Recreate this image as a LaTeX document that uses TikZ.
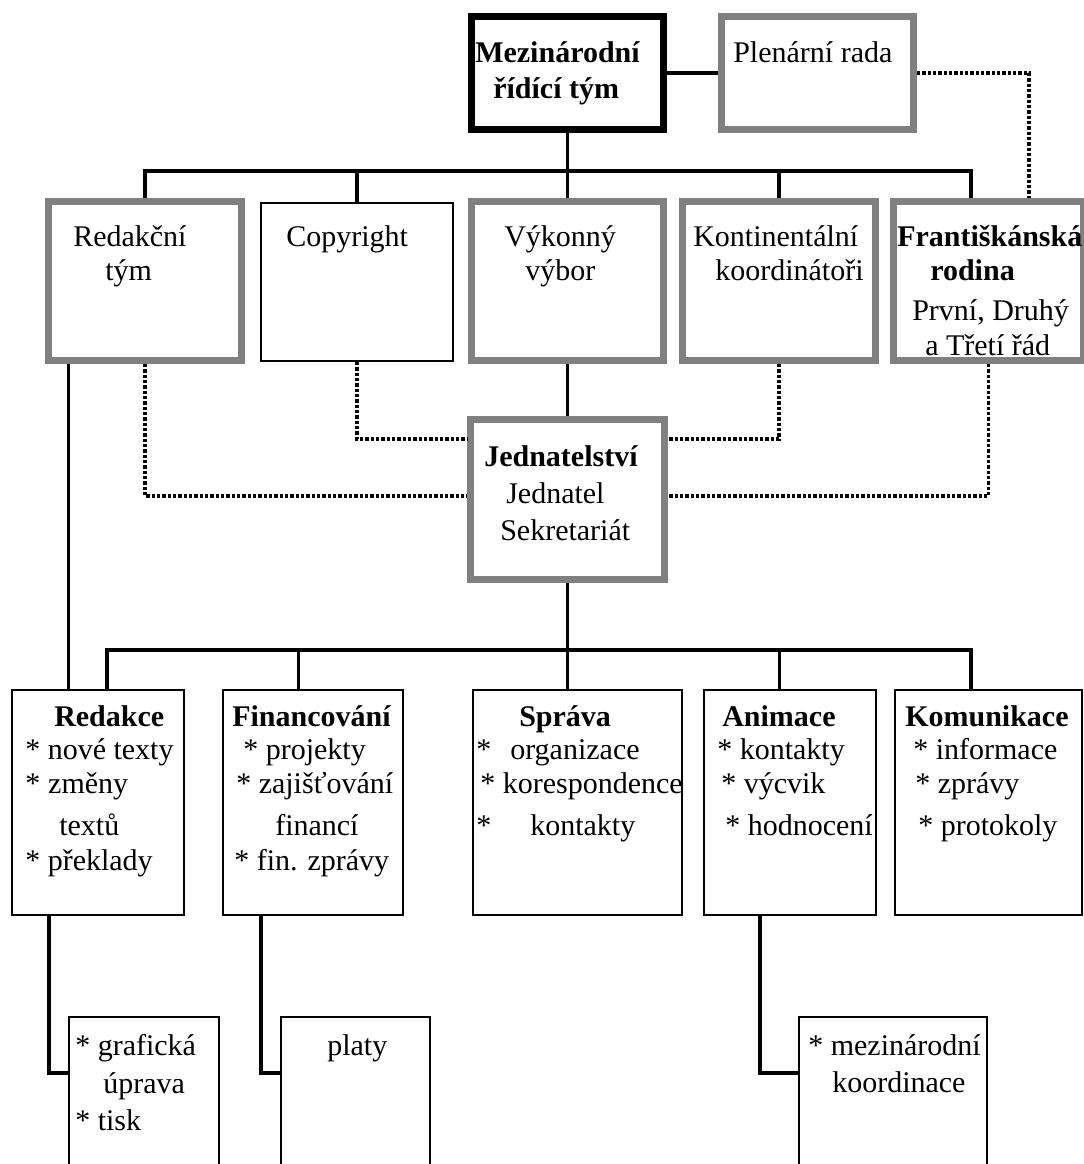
\documentclass[tikz,border=0pt]{standalone}
\usepackage{fontspec}
\setmainfont{Liberation Serif}
\usetikzlibrary{calc}
\definecolor{boxgray}{HTML}{808080}
\tikzset{
  px/.style={x=0.75pt,y=-0.75pt},
  graybox/.style={draw=boxgray,line width=5.25pt,fill=white,rectangle,inner sep=0pt},
  boldbox/.style={draw=black,line width=5.25pt,fill=white,rectangle,inner sep=0pt},
  thinbox/.style={draw=black,line width=1.5pt,fill=white,rectangle,inner sep=0pt},
  link/.style={draw=black,line width=2.9pt},
  dotlink/.style={draw=black,line width=2.4pt,dash pattern=on 2.4pt off 1.6pt},
  txt/.style={anchor=base west,inner sep=0pt,font=\fontsize{22.5pt}{27pt}\selectfont},
  btxt/.style={txt,font=\fontsize{22.5pt}{27pt}\selectfont\bfseries},
  wh/.style 2 args={minimum width=#1,minimum height=#2},
}
\begin{document}
\begin{tikzpicture}[px]
\useasboundingbox (0,0) rectangle (1084,1164);
\clip (0,0) rectangle (1084,1164);
\fill[white] (0,0) rectangle (1084,1164);

% ---------- boxes ----------
\node[boldbox,wh={144pt}{84.75pt}] (mez) at (567.5,73) {};
\node[graybox,wh={144pt}{84.75pt}] (plen) at (817.5,73) {};
\node[graybox,wh={144.75pt}{119.25pt}] (redt) at (145,281) {};
\node[thinbox,wh={144pt}{118.5pt}] (copy) at (357,282) {};
\node[graybox,wh={144pt}{119.25pt}] (vyk) at (567.5,281) {};
\node[graybox,wh={144.75pt}{119.25pt}] (kont) at (779,281) {};
\node[graybox,wh={142.5pt}{119.25pt}] (fran) at (988.5,281) {};
\node[graybox,wh={145.5pt}{120pt}] (jed) at (567.5,499.5) {};
\node[thinbox,wh={129pt}{168.75pt}] (red) at (98,802.5) {};
\node[thinbox,wh={135pt}{168.75pt}] (fin) at (313,802.5) {};
\node[thinbox,wh={156.75pt}{168.75pt}] (spr) at (577.5,802.5) {};
\node[thinbox,wh={129pt}{168.75pt}] (ani) at (790,802.5) {};
\node[thinbox,wh={140.25pt}{168.75pt}] (kom) at (988.5,802.5) {};
\node[thinbox,wh={112.5pt}{150pt}] (gr) at (144,1117) {};
\node[thinbox,wh={111.75pt}{150pt}] (plat) at (355.5,1117) {};
\node[thinbox,wh={141pt}{150pt}] (mk) at (893,1117) {};

% ---------- helper coordinates ----------
\coordinate (tbR) at (971,171);
\coordinate (pd) at (1029,73);
\coordinate (jd1) at (0,439);
\coordinate (jd2) at (0,496);
\coordinate (bbL) at (107,650);
\coordinate (bbR) at (971,650);
\coordinate (dfin) at (298.5,650);
\coordinate (dani) at (779.5,650);
\coordinate (rr) at (68.5,0);
\coordinate (s1) at (49,1073);
\coordinate (s2) at (261,1073);
\coordinate (s3) at (760,1073);

% ---------- solid connectors ----------
\draw[link] (mez.east) -- (plen.west);
\draw[link] (mez.south) -- (vyk.north);
\draw[link] (redt.north) |- (tbR) -- (tbR |- fran.north);
\draw[link] (copy.north) -- (copy.north |- tbR);
\draw[link] (kont.north) -- (kont.north |- tbR);
\draw[link] (vyk.south) -- (jed.north);
\draw[link] (jed.south) -- (jed.south |- spr.north);
\draw[link] (red.north -| bbL) -- (bbL) -- (bbR) -- (bbR |- kom.north);
\draw[link] (dfin) -- (dfin |- fin.north);
\draw[link] (dani) -- (dani |- ani.north);
\draw[link] (redt.south -| rr) -- (red.north -| rr);
\draw[link] (red.south -| s1) -- (s1) -- (gr.west |- s1);
\draw[link] (fin.south -| s2) -- (s2) -- (plat.west |- s2);
\draw[link] (ani.south -| s3) -- (s3) -- (mk.west |- s3);

% ---------- dotted connectors ----------
\draw[dotlink] (plen.east) -- (pd) -- (pd |- fran.north);
\draw[dotlink] (copy.south) |- (jed.west |- jd1);
\draw[dotlink] (kont.south) |- (jed.east |- jd1);
\draw[dotlink] (redt.south) |- (jed.west |- jd2);
\draw[dotlink] (fran.south) |- (jed.east |- jd2);

% ---------- texts ----------
\node[btxt] (t1) at (475,62) {Mezinárodní};
\node[btxt] (t2) at (493,98) {řídící tým};
\node[txt] (t3) at (733,62) {Plenární rada};
\node[txt] (t4) at (73,246) {Redakční};
\node[txt] (t5) at (105,280) {tým};
\node[txt] (t6) at (286,246) {Copyright};
\node[txt] (t7) at (504,246) {Výkonný};
\node[txt] (t8) at (525,280) {výbor};
\node[txt] (t9) at (693,246) {Kontinentální};
\node[txt] (t10) at (715,280) {koordinátoři};
\node[btxt] (t11) at (897,246) {Františkánská};
\node[btxt] (t12) at (930,280) {rodina};
\node[txt] (t13) at (912,320) {První, Druhý};
\node[txt] (t14) at (925,355) {a Třetí řád};
\node[btxt] (t15) at (484,466) {Jednatelství};
\node[txt] (t16) at (506,503) {Jednatel};
\node[txt] (t17) at (500,540) {Sekretariát};

\node[btxt] (t18) at (54,726) {Redakce};
\node[txt] (t19) at (25,759) {* nové texty};
\node[txt] (t20) at (25,793) {*\hspace{6pt}změny};
\node[txt] (t21) at (59,835) {textů};
\node[txt] (t22) at (25,870) {* překlady};

\node[btxt] (t23) at (232,726) {Financování};
\node[txt] (t24) at (243,759) {* projekty};
\node[txt] (t25) at (236,793) {* zajišťování};
\node[txt] (t26) at (275,835) {financí};
\node[txt] (t27) at (234,870) {* fin. zprávy};

\node[btxt] (t28) at (519,726) {Správa};
\node[txt] (t29) at (476,759) {*\hspace{14.25pt}organizace};
\node[txt] (t30) at (480,793) {* korespondence};
\node[txt] (t31) at (476,835) {*\hspace{29.25pt}kontakty};

\node[btxt] (t32) at (722,726) {Animace};
\node[txt] (t33) at (717,759) {* kontakty};
\node[txt] (t34) at (721,793) {* výcvik};
\node[txt] (t35) at (725,835) {* hodnocení};

\node[btxt] (t36) at (905,726) {Komunikace};
\node[txt] (t37) at (913,759) {* informace};
\node[txt] (t38) at (915,793) {* zprávy};
\node[txt] (t39) at (918,835) {* protokoly};

\node[txt] (t40) at (75,1055) {* grafická};
\node[txt] (t41) at (103,1093) {úprava};
\node[txt] (t42) at (75,1130) {* tisk};
\node[txt] (t43) at (327,1055) {platy};
\node[txt] (t44) at (808,1055) {* mezinárodní};
\node[txt] (t45) at (832,1092) {koordinace};
\end{tikzpicture}
\end{document}
